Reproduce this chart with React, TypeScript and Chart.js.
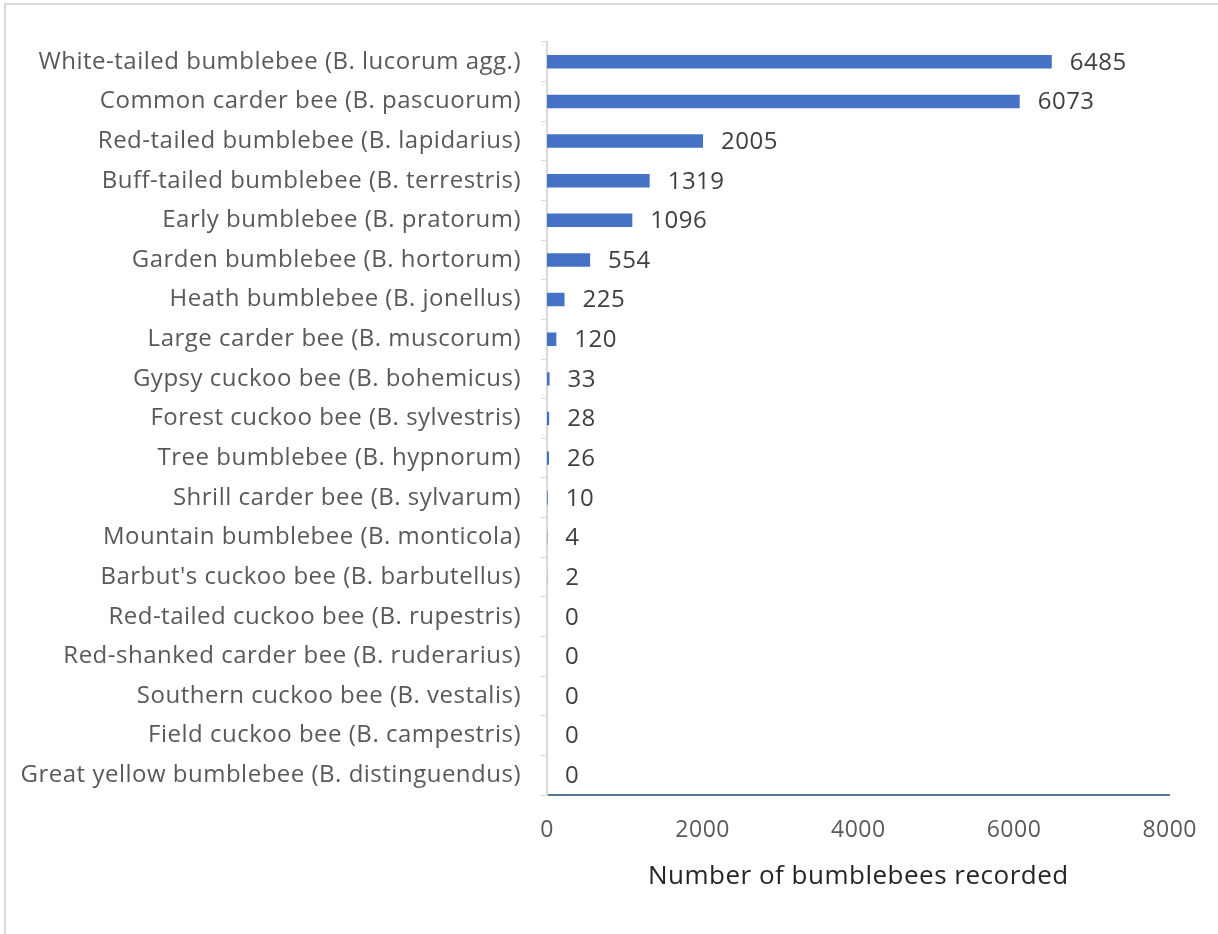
import React, { useEffect, useRef } from "react";
import { Chart, registerables } from "chart.js";

Chart.register(...registerables);

const categories = [
  "White-tailed bumblebee (B. lucorum agg.)",
  "Common carder bee (B. pascuorum)",
  "Red-tailed bumblebee (B. lapidarius)",
  "Buff-tailed bumblebee (B. terrestris)",
  "Early bumblebee (B. pratorum)",
  "Garden bumblebee (B. hortorum)",
  "Heath bumblebee (B. jonellus)",
  "Large carder bee (B. muscorum)",
  "Gypsy cuckoo bee (B. bohemicus)",
  "Forest cuckoo bee (B. sylvestris)",
  "Tree bumblebee (B. hypnorum)",
  "Shrill carder bee (B. sylvarum)",
  "Mountain bumblebee (B. monticola)",
  "Barbut's cuckoo bee (B. barbutellus)",
  "Red-tailed cuckoo bee (B. rupestris)",
  "Red-shanked carder bee (B. ruderarius)",
  "Southern cuckoo bee (B. vestalis)",
  "Field cuckoo bee (B. campestris)",
  "Great yellow bumblebee (B. distinguendus)",
];

const counts = [6485, 6073, 2005, 1319, 1096, 554, 225, 120, 33, 28, 26, 10, 4, 2, 0, 0, 0, 0, 0];

const xTicks = [0, 2000, 4000, 6000, 8000];
const xTitle = "Number of bumblebees recorded";

const FONT = "'Open Sans', 'Noto Sans', sans-serif";

const spacingPlugin = {
  id: "spacing",
  beforeDraw(chart: any) {
    chart.ctx.letterSpacing = "0.5px";
  },
  afterDraw(chart: any) {
    chart.ctx.letterSpacing = "0px";
  },
};

const dataLabelPlugin = {
  id: "dataLabels",
  afterDatasetsDraw(chart: any) {
    const ctx = chart.ctx;
    const meta = chart.getDatasetMeta(0);
    ctx.save();
    ctx.font = `24px ${FONT}`;
    ctx.fillStyle = "#404040";
    ctx.textAlign = "left";
    ctx.textBaseline = "middle";
    meta.data.forEach((bar: any, i: number) => {
      const v = chart.data.datasets[0].data[i];
      ctx.fillText(String(v), bar.x + 18, bar.y + 1);
    });
    ctx.restore();
  },
};

export default function App() {
  const ref = useRef<HTMLCanvasElement | null>(null);

  useEffect(() => {
    if (!ref.current) return;
    const chart = new Chart(ref.current, {
      type: "bar",
      data: {
        labels: categories,
        datasets: [
          {
            data: counts,
            backgroundColor: "#4472c4",
            borderWidth: 0,
            categoryPercentage: 1,
            barPercentage: 0.34,
          },
        ],
      },
      options: {
        indexAxis: "y",
        animation: false,
        responsive: false,
        maintainAspectRatio: false,
        layout: { padding: { top: 42, right: 44, left: 0, bottom: 0 } },
        plugins: {
          legend: { display: false },
          tooltip: { enabled: false },
          title: { display: false },
        },
        scales: {
          x: {
            min: 0,
            max: 8000,
            afterBuildTicks(scale: any) {
              scale.ticks = xTicks.map((v) => ({ value: v }));
            },
            afterFit(scale: any) {
              scale.height = 139;
            },
            grid: { display: false, drawTicks: false },
            border: { display: true, color: "#5a7591", width: 2 },
            ticks: {
              padding: 22,
              color: "#595959",
              font: { family: FONT, size: 23 },
              callback: (v: any) => String(v),
            },
            title: {
              display: true,
              text: xTitle,
              color: "#262626",
              font: { family: FONT, size: 26 },
              padding: { top: 0, bottom: 42 },
            },
          },
          y: {
            afterFit(scale: any) {
              scale.width = 547;
            },
            grid: {
              display: true,
              drawOnChartArea: false,
              drawTicks: true,
              tickLength: 6,
              color: "#d9d9d9",
              offset: true,
            },
            border: { display: true, color: "#d9d9d9", width: 2 },
            ticks: {
              padding: 20,
              color: "#595959",
              font: { family: FONT, size: 24 },
              autoSkip: false,
            },
          },
        },
      },
      plugins: [spacingPlugin, dataLabelPlugin],
    });
    return () => chart.destroy();
  }, []);

  return (
    <div
      style={{
        position: "absolute",
        left: 0,
        top: 0,
        width: 1218,
        height: 934,
        background: "#fff",
        overflow: "hidden",
      }}
    >
      <div
        style={{
          position: "absolute",
          left: 4,
          top: 3,
          width: 1214,
          height: 931,
          borderTop: "2px solid #d9d9d9",
          borderLeft: "2px solid #d9d9d9",
        }}
      />
      <canvas
        ref={ref}
        width={1218}
        height={934}
        style={{ position: "absolute", left: 0, top: 0, width: 1218, height: 934 }}
      />
    </div>
  );
}
